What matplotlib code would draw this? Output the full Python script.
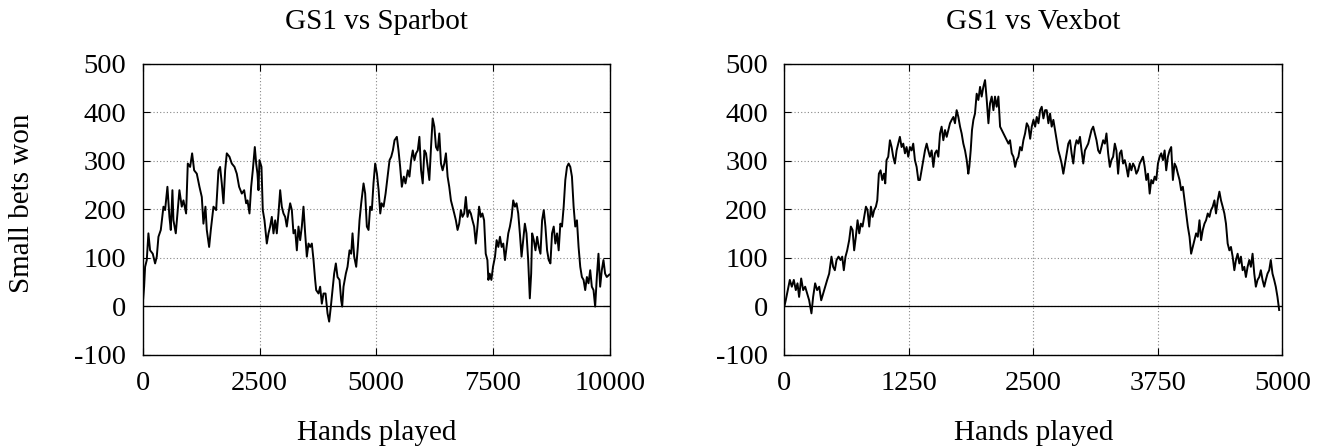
import numpy as np
import matplotlib.pyplot as plt

# GS1 vs Sparbot
spar_hands = [0, 29, 50, 86, 121, 157, 214, 264, 300, 336, 386, 443, 478, 528, 571, 600,
              635, 657, 707, 743, 785, 835, 871, 928, 964, 1014, 1057, 1100, 1157, 1214,
              1264, 1299, 1342, 1371, 1421, 1457, 1514, 1571, 1621, 1656, 1692, 1728, 1764,
              1799, 1856, 1906, 1964, 2013, 2063, 2121, 2171, 2213, 2242, 2285, 2321, 2356,
              2399, 2428, 2456, 2478, 2499, 2542, 2570, 2606, 2656, 2692, 2727, 2763, 2799,
              2835, 2870, 2906, 2942, 2977, 3013, 3049, 3084, 3120, 3156, 3192, 3227, 3263,
              3299, 3334, 3370, 3406, 3441, 3477, 3513, 3549, 3584, 3620, 3656, 3691, 3713,
              3763, 3798, 3834, 3870, 3913, 3956, 3991, 4027, 4070, 4098, 4134, 4170, 4213,
              4248, 4270, 4298, 4348, 4384, 4427, 4463, 4491, 4527, 4570, 4605, 4641, 4677,
              4727, 4762, 4798, 4834, 4869, 4905, 4940, 4976,
              5014, 5050, 5085, 5114, 5156, 5199, 5249, 5284, 5320, 5355, 5391, 5440, 5476,
              5511, 5547, 5589, 5625, 5675, 5710, 5746, 5781, 5817, 5852, 5888, 5923, 5959,
              5994, 6030, 6065, 6101, 6136, 6172, 6207, 6243, 6278, 6314, 6349, 6385, 6420,
              6456, 6491, 6527, 6562, 6598, 6633, 6669, 6704, 6740, 6775, 6811, 6846, 6882,
              6917, 6953, 6988, 7024, 7059, 7095, 7130, 7166, 7201, 7237, 7272, 7308, 7343,
              7379, 7400, 7428, 7464, 7499, 7542, 7577, 7613, 7648, 7684, 7719, 7755, 7790,
              7826, 7861, 7897, 7932, 7968, 8003, 8039, 8074, 8110, 8145, 8181, 8216, 8252,
              8287, 8316, 8337, 8373, 8408, 8444, 8479, 8515, 8550, 8586, 8621, 8657, 8692,
              8728, 8763, 8799, 8834, 8870, 8905, 8941, 8976, 9012, 9047, 9083, 9118, 9154,
              9189, 9225, 9260, 9296, 9331, 9367, 9402, 9438, 9473, 9509, 9544, 9580, 9615,
              9651, 9686, 9722, 9757, 9793, 9828, 9864, 9899, 9935, 9990]
spar_bets = [5, 40, 81, 95, 150, 115, 108, 88, 102, 143, 157, 205, 198, 246, 184, 157,
             239, 177, 150, 191, 239, 205, 218, 191, 294, 287, 315, 280, 273, 246,
             225, 170, 205, 157, 122, 157, 205, 198, 280, 287, 253, 212, 280,
             315, 308, 294, 287, 273, 246, 232, 239, 212, 218, 191, 246, 280,
             328, 294, 273, 239, 301, 287, 198, 177, 129, 150, 164, 184, 150,
             177, 150, 191, 239, 205, 191, 184, 164, 191, 212, 198, 150, 157,
             115, 164, 136, 164, 205, 150, 102, 129, 122, 129, 95, 54, 33,
             26, 40, 5, 26, 26, -15, -32, -1, 40, 67, 88, 60, 54,
             12, -1, 40, 67, 81, 115, 108, 150, 102, 81, 122, 177, 212,
             253, 232, 164, 157, 205, 198, 253, 294,
             273, 239, 191, 212, 205, 232, 273, 301, 308, 321, 342, 349, 321,
             287, 246, 267, 253, 280, 267, 301, 321, 301, 315, 321, 349, 280,
             253, 321, 315, 287, 260, 328, 387, 370, 328, 321, 356, 294, 280,
             294, 315, 267, 246, 218, 205, 191, 177, 157, 170, 198, 184, 191,
             225, 184, 198, 191, 177, 164, 129, 164, 205, 184, 191, 177, 108,
             95, 54, 67, 54, 81, 102, 136, 122, 143, 122, 129, 95, 122,
             150, 164, 184, 218, 205, 212, 191, 150, 102, 136, 170, 150, 95,
             16, 67, 150, 136, 115, 143, 122, 108, 177, 198, 164, 115, 95,
             88, 150, 164, 129, 150, 115, 170, 164, 205, 260, 287, 294, 287,
             267, 205, 164, 177, 122, 81, 60, 54, 33, 60, 47, 74, 40,
             33, -1, 60, 108, 40, 74, 95, 67, 60, 65]

# GS1 vs Vexbot
vex_hands = [0, 13, 34, 54, 74, 94, 114, 131, 147, 168, 188, 208, 228, 248, 271, 288,
             308, 328, 349, 369, 389, 409, 429, 449, 472, 489, 506, 523, 543, 563, 580,
             596, 613, 630, 650, 667, 684, 700, 717, 734, 751, 767, 784, 801, 818, 834,
             851, 868, 885, 901, 918, 932, 948, 965, 982, 999, 1012, 1025, 1042, 1059,
             1076, 1092, 1109, 1126, 1143, 1159, 1176, 1193, 1210, 1226, 1243, 1260, 1277,
             1293, 1310, 1327, 1344, 1360, 1377, 1394, 1411, 1428, 1444, 1461, 1478, 1495,
             1511, 1528, 1545, 1562, 1578, 1595, 1612, 1629, 1645, 1662, 1679, 1696, 1712,
             1729, 1746, 1763, 1779, 1796, 1813, 1830, 1846, 1856, 1870, 1883, 1897, 1913,
             1930, 1947, 1964, 1980, 1997, 2014, 2031, 2048, 2064, 2081, 2098, 2114, 2131,
             2148, 2165, 2182, 2198, 2215, 2232, 2249, 2265, 2282, 2299, 2316, 2332, 2349,
             2366, 2383, 2399, 2416, 2433, 2450,
             2467, 2483, 2500, 2517, 2533, 2550, 2567, 2583, 2600, 2617, 2633, 2650, 2667,
             2683, 2700, 2717, 2733, 2750, 2767, 2783, 2800, 2817, 2833, 2850, 2867, 2883,
             2900, 2917, 2933, 2950, 2967, 2983, 3000, 3017, 3033, 3050, 3067, 3083, 3100,
             3117, 3133, 3150, 3167, 3183, 3200, 3217, 3233, 3250, 3267, 3283, 3300, 3317,
             3333, 3350, 3367, 3383, 3400, 3417, 3433, 3450, 3467, 3483, 3500, 3517, 3533,
             3550, 3567, 3583, 3600, 3617, 3633, 3650, 3667, 3683, 3700, 3717, 3733, 3750,
             3767, 3783, 3800, 3817, 3833, 3850, 3867, 3883, 3900, 3917, 3933, 3950, 3967,
             3983, 4000, 4017, 4033, 4050, 4067, 4083, 4100, 4117, 4133, 4150, 4167, 4183,
             4200, 4217, 4233, 4250, 4267, 4283, 4300, 4317, 4333, 4350, 4367, 4383, 4400,
             4417, 4433, 4450, 4467, 4483, 4500, 4517, 4533, 4550, 4567, 4583, 4600, 4617,
             4633, 4650, 4667, 4683, 4700, 4717, 4733, 4750, 4767, 4783, 4800, 4817, 4833,
             4850, 4867, 4883, 4900, 4917, 4933, 4950, 4967]
vex_bets = [0, 12, 33, 54, 40, 54, 33, 47, 19, 57, 33, 40, 26, 12, -15, 19,
            47, 33, 40, 12, 26, 40, 54, 67, 102, 81, 74, 95, 102, 95, 102,
            74, 102, 115, 136, 164, 157, 115, 143, 177, 150, 170, 164, 184, 205, 198,
            164, 205, 184, 198, 205, 218, 273, 280, 260, 273, 253, 301, 308, 342,
            328, 308, 294, 321, 335, 349, 328, 335, 315, 328, 308, 328, 321,
            335, 301, 287, 260, 260, 280, 301, 321, 335, 321, 308, 321, 287,
            315, 321, 308, 356, 370, 342, 363, 349, 363, 377, 384, 390, 377,
            404, 390, 370, 356, 335, 321, 301, 273, 287, 321, 363, 384, 397,
            438, 425, 452, 432, 452, 466, 425, 377, 418, 432, 404, 432, 411,
            432, 370, 363, 356, 349, 342, 335, 342, 315, 308, 287, 301, 308,
            328, 321, 342, 356, 377, 370,
            345, 370, 384, 370, 390, 377, 404, 411, 387, 404, 404, 377, 397,
            370, 384, 363, 342, 321, 308, 294, 273, 294, 315, 335, 342, 315,
            294, 328, 342, 335, 349, 321, 294, 321, 328, 335, 349, 363, 370,
            356, 342, 321, 315, 328, 342, 335, 356, 315, 287, 301, 308, 335,
            321, 273, 315, 321, 294, 301, 287, 267, 294, 280, 294, 287, 273,
            280, 294, 301, 308, 287, 260, 273, 232, 260, 253, 267, 260, 294,
            308, 315, 301, 321, 280, 308, 321, 328, 260, 294, 287, 273, 260,
            239, 246, 218, 191, 164, 143, 108, 122, 136, 150, 143, 177, 136,
            157, 170, 177, 191, 184, 198, 205, 218, 191, 218, 236, 218, 205,
            191, 170, 129, 115, 122, 102, 74, 95, 108, 88, 102, 74, 81,
            60, 81, 95, 81, 108, 67, 40, 54, 60, 74, 54, 40, 54,
            67, 74, 95, 67, 54, 40, 19, -8]

y_ticks = [-100, 0, 100, 200, 300, 400, 500]
spar_xticks = [0, 2500, 5000, 7500, 10000]
vex_xticks = [0, 1250, 2500, 3750, 5000]

plt.rcParams['font.family'] = ['Liberation Serif', 'DejaVu Serif']
plt.rcParams['axes.unicode_minus'] = False

fig = plt.figure(figsize=(13.28, 4.47), dpi=100)
ax1 = fig.add_axes([0.1075, 0.2067, 0.3517, 0.651])
ax2 = fig.add_axes([0.5907, 0.2067, 0.375, 0.651])

panels = [(ax1, spar_hands, spar_bets, spar_xticks, "GS1 vs Sparbot"),
          (ax2, vex_hands, vex_bets, vex_xticks, "GS1 vs Vexbot")]

for ax, hands, bets, xt, title in panels:
    ax.plot(hands, bets, color='black', lw=1.4)
    ax.axhline(0, color='black', lw=0.9)
    ax.set_xlim(xt[0], xt[-1])
    ax.set_ylim(-100, 500)
    ax.set_xticks(xt)
    ax.set_yticks(y_ticks)
    ax.grid(True, color='#888888', ls=(0, (1, 2)), lw=0.8)
    ax.tick_params(direction='in', length=5, width=0.8, top=True, right=True,
                   labelsize=20.5, pad=12)
    ax.set_xlabel("Hands played", fontsize=21)
    ax.xaxis.set_label_coords(0.5, -0.225)
    ax.set_title(title, fontsize=21, pad=25)
    for s in ax.spines.values():
        s.set_linewidth(1.0)

ax1.set_ylabel("Small bets won", fontsize=21)
ax1.yaxis.set_label_coords(-0.23, 0.519)

fig.savefig("out.png", dpi=100)
